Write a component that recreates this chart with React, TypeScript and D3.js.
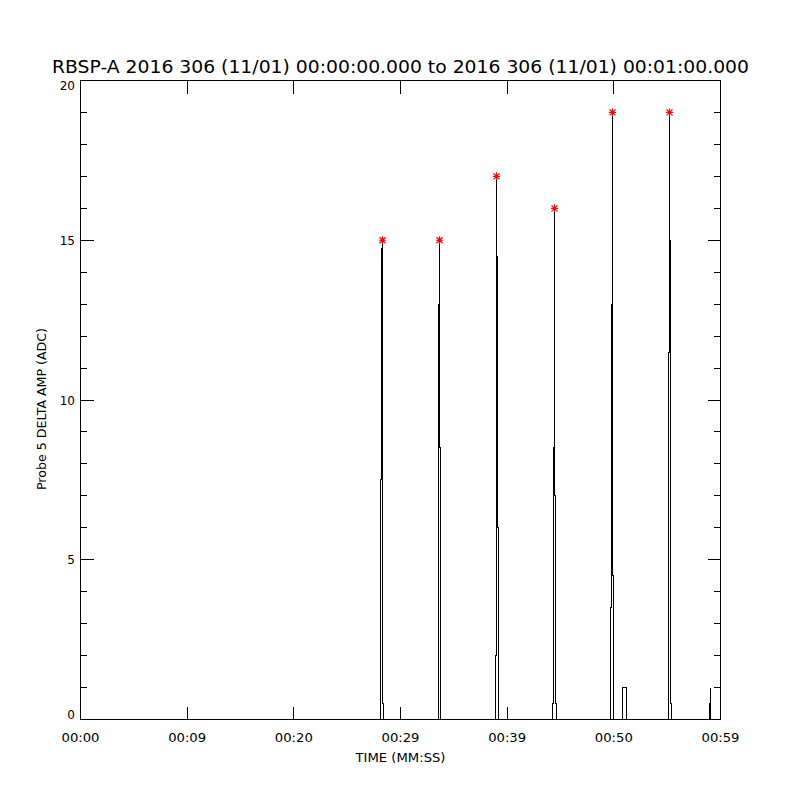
import React from 'react';
import * as d3 from 'd3';

const TITLE = 'RBSP-A 2016 306 (11/01) 00:00:00.000 to 2016 306 (11/01) 00:01:00.000';
const X_LABEL = 'TIME (MM:SS)';
const Y_LABEL = 'Probe 5 DELTA AMP (ADC)';

const xTickSeconds = [0, 10, 20, 30, 40, 50, 60];
const xTickLabels = ['00:00', '00:09', '00:20', '00:29', '00:39', '00:50', '00:59'];
const yMajorTicks = [0, 5, 10, 15, 20];
const yMinorTicks = [1, 2, 3, 4, 6, 7, 8, 9, 11, 12, 13, 14, 16, 17, 18, 19];

// Time (s) and amplitude samples of the trace
const times = [
  0,
  28.125, 28.125, 28.219, 28.219, 28.313, 28.313, 28.406, 28.406,
  30.0, 30.0, 30.01,
  33.563, 33.563, 33.656, 33.656, 33.656, 33.75, 33.75,
  38.906, 38.906, 39.0, 39.0, 39.0, 39.094, 39.094, 39.188, 39.188,
  40.031, 40.031, 40.04,
  44.25, 44.25, 44.344, 44.344, 44.438, 44.438, 44.438, 44.531, 44.531, 44.625, 44.625,
  49.688, 49.688, 49.781, 49.781, 49.875, 49.875, 49.875, 49.969, 49.969,
  50.813, 50.813, 51.188, 51.188,
  55.125, 55.125, 55.219, 55.219, 55.219, 55.313, 55.313, 55.406, 55.406,
  58.969, 58.969, 59.063, 59.063, 59.063,
  60,
];
const values = [
  0,
  0, 7.5, 7.5, 14.5, 15, 0.5, 0.5, 0,
  0, 0.4, 0,
  0, 13, 13, 15, 8.5, 8.5, 0,
  0, 2, 2, 17, 14.5, 14.5, 6, 6, 0,
  0, 0.4, 0,
  0, 0.5, 0.5, 8.5, 8.5, 16, 7, 7, 0.5, 0.5, 0,
  0, 3.5, 3.5, 13, 13, 19, 4.5, 4.5, 0,
  0, 1, 1, 0,
  0, 11.5, 11.5, 19, 15, 15, 0.5, 0.5, 0,
  0, 0.5, 0.5, 1, 0,
  0,
];

// Peak markers
const peakTimes = [28.313, 33.656, 39.0, 44.438, 49.875, 55.219];
const peakValues = [15, 15, 17, 16, 19, 19];

const FONT = '"DejaVu Sans", sans-serif';

export default function App() {
  const left = 80.5, right = 720.5, top = 80.5, bottom = 719.5;
  const x = d3.scaleLinear().domain([0, 60]).range([left, right]);
  const y = d3.scaleLinear().domain([0, 20]).range([bottom, top]);
  const idx = values.map((_, i) => i);
  const path = d3.line<number>().x((i) => x(times[i])).y((i) => y(values[i]))(idx) || '';
  const majorLen = 13, minorLen = 6.5;
  const star = (cx: number, cy: number) => {
    const rx = 3.5, ry = 4, d = 3;
    return `M${cx - rx},${cy}L${cx + rx},${cy}M${cx},${cy - ry}L${cx},${cy + ry}M${cx - d},${cy - d}L${cx + d},${cy + d}M${cx - d},${cy + d}L${cx + d},${cy - d}`;
  };
  return (
    <svg width={800} height={800} style={{ position: 'absolute', left: 0, top: 0, background: '#fff' }}
      fontFamily={FONT}>
      <rect x={0} y={0} width={800} height={800} fill="#fff" />
      <text x={400.5} y={73} fontSize={17} textAnchor="middle" textLength={697} lengthAdjust="spacingAndGlyphs">{TITLE}</text>
      <g stroke="#000" strokeWidth={1} shapeRendering="crispEdges" fill="none">
        <rect x={left} y={top} width={right - left} height={bottom - top} />
        {xTickSeconds.map((t) => (
          <g key={'xt' + t}>
            <line x1={x(t)} x2={x(t)} y1={bottom} y2={bottom - majorLen} />
            <line x1={x(t)} x2={x(t)} y1={top} y2={top + majorLen} />
          </g>
        ))}
        {yMajorTicks.map((v) => (
          <g key={'ym' + v}>
            <line x1={left} x2={left + majorLen} y1={y(v)} y2={y(v)} />
            <line x1={right} x2={right - majorLen} y1={y(v)} y2={y(v)} />
          </g>
        ))}
        {yMinorTicks.map((v) => (
          <g key={'yn' + v}>
            <line x1={left} x2={left + minorLen} y1={y(v)} y2={y(v)} />
            <line x1={right} x2={right - minorLen} y1={y(v)} y2={y(v)} />
          </g>
        ))}
        <path d={path} />
      </g>
      <g stroke="#ff0000" strokeWidth={1.2} fill="none">
        {peakTimes.map((t, i) => (
          <path key={'pk' + i} d={star(x(t), y(peakValues[i]))} />
        ))}
      </g>
      <g fontSize={12} fill="#000">
        {xTickSeconds.map((t, i) => (
          <text key={'xl' + t} x={x(t)} y={742} textAnchor="middle" textLength={38} lengthAdjust="spacingAndGlyphs">{xTickLabels[i]}</text>
        ))}
        {yMajorTicks.map((v, i) => {
          const shift = i === 0 ? -5 : i === yMajorTicks.length - 1 ? 5 : 0;
          return (
            <text key={'yl' + v} x={75} y={y(v) + shift + 4.5} textAnchor="end">{String(v)}</text>
          );
        })}
        <text x={400.5} y={762} textAnchor="middle" textLength={90} lengthAdjust="spacingAndGlyphs">{X_LABEL}</text>
        <text transform={`translate(45.5,409) rotate(-90)`} textAnchor="middle" textLength={162} lengthAdjust="spacingAndGlyphs">{Y_LABEL}</text>
      </g>
    </svg>
  );
}
